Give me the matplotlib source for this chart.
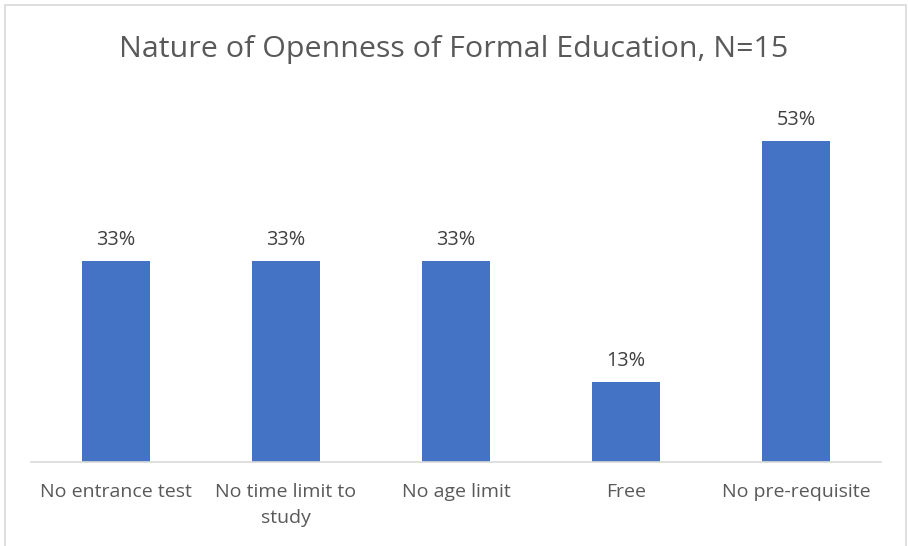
import matplotlib
matplotlib.use("Agg")
import matplotlib.pyplot as plt
from matplotlib.patches import Rectangle

categories = ["No entrance test", "No time limit to\nstudy", "No age limit", "Free", "No pre-requisite"]
values = [33.33, 33.33, 33.33, 13.33, 53.33]
labels = ["33%", "33%", "33%", "13%", "53%"]
title = "Nature of Openness of Formal Education, N=15"

plt.rcParams['font.family'] = ['Open Sans', 'DejaVu Sans']
W, H = 908, 546
fig = plt.figure(figsize=(W/100, H/100), dpi=100)
fig.patches.append(Rectangle((4.5/W, -0.1), (905.5-4.5)/W, (H-5)/H + 0.1, transform=fig.transFigure,
                             fill=False, edgecolor="#d9d9d9", linewidth=1.2))
ax = fig.add_axes([31/W, (H-462)/H, 850/W, 361/H])
x = list(range(len(categories)))
bars = ax.bar(x, values, width=0.4, color="#4472c4")
ax.set_xlim(-0.5, len(categories) - 0.5)
ax.set_ylim(0, 60)
for xi, v, l in zip(x, values, labels):
    ax.annotate(l, (xi, v), xytext=(0, 8), textcoords="offset points", ha="center", va="bottom",
                fontsize=14.3, color="#404040")
ax.set_xticks(x)
ax.set_xticklabels(categories, fontsize=14, color="#595959", linespacing=1.6)
ax.tick_params(axis="x", length=0, pad=15)
ax.set_yticks([])
for s in ["top", "right", "left"]:
    ax.spines[s].set_visible(False)
ax.spines["bottom"].set_color("#d9d9d9")
ax.spines["bottom"].set_linewidth(1.2)
fig.text(0.5, 1 - 50/H, title, ha="center", va="center", fontsize=21.9, color="#595959")
fig.savefig("out.png", dpi=100)
